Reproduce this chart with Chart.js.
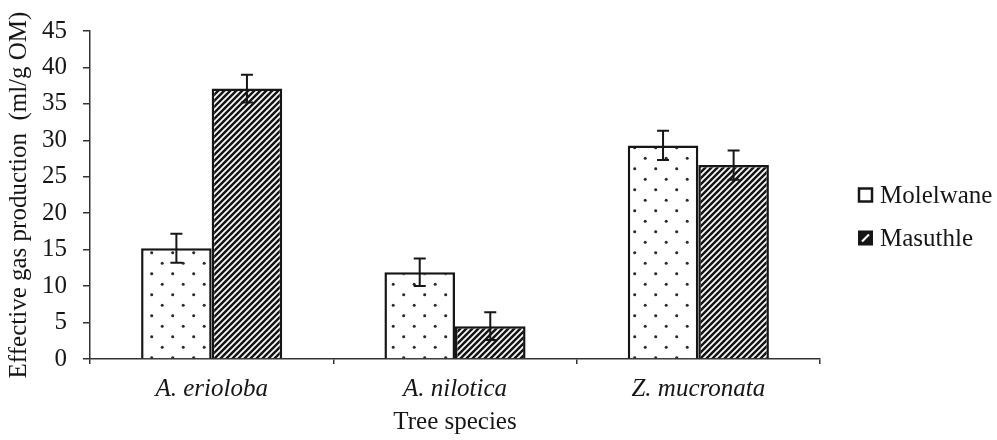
<!DOCTYPE html>
<html>
<head>
<meta charset="utf-8">
<title>Effective gas production by tree species</title>
<script src="https://cdn.jsdelivr.net/npm/chart.js@4/dist/chart.umd.min.js"></script>
<style>
  html, body { margin: 0; padding: 0; background: #ffffff; }
  #wrap { width: 997px; height: 440px; }
</style>
</head>
<body>
<div id="wrap"><canvas id="chart" width="997" height="440"></canvas></div>
<script>
// Tree species on the x axis
const species = ['A. erioloba', 'A. nilotica', 'Z. mucronata'];
// Series names
const seriesNames = ['Molelwane', 'Masuthle'];
// Effective gas production (ml/g OM)
const molelwane = [15.2, 11.9, 29.3];
const masuthle = [37.1, 4.5, 26.6];
// Error bar half-widths (ml/g OM)
const molelwaneErr = [2.0, 1.9, 2.0];
const masuthleErr = [1.9, 1.9, 2.0];
// Y axis range and step
const yMin = 0;
const yMax = 45;
const yStep = 5;

const INK = '#161616';
const FONT = "'Liberation Serif', 'Times New Roman', serif";

// Staggered dot fill
function makeDotPattern() {
  const c = document.createElement('canvas');
  c.width = 21; c.height = 21;
  const g = c.getContext('2d');
  g.fillStyle = '#ffffff';
  g.fillRect(0, 0, 21, 21);
  g.fillStyle = '#2a2a2a';
  [[4.7, 0.7], [15.2, 11.2], [4.7, 21.7], [-5.8, 11.2], [15.2, -9.8], [25.7, 11.2]].forEach(([x, y]) => {
    g.beginPath();
    g.arc(x, y, 1.5, 0, Math.PI * 2);
    g.fill();
  });
  return g.createPattern(c, 'repeat');
}

// Dense diagonal hatch: white "/" stripes on black
function makeHatchPattern() {
  const s = 6;
  const c = document.createElement('canvas');
  c.width = s; c.height = s;
  const g = c.getContext('2d');
  g.fillStyle = '#151515';
  g.fillRect(0, 0, s, s);
  g.strokeStyle = '#ffffff';
  g.lineWidth = 1.7;
  g.beginPath();
  g.moveTo(-1, s + 1); g.lineTo(s + 1, -1);
  g.moveTo(-1, 1); g.lineTo(1, -1);
  g.moveTo(s - 1, s + 1); g.lineTo(s + 1, s - 1);
  g.stroke();
  return g.createPattern(c, 'repeat');
}

const errors = [molelwaneErr, masuthleErr];

// Error bars drawn through the value scale
const errorBarPlugin = {
  id: 'errorBars',
  afterDatasetsDraw(chart) {
    const { ctx, scales: { y } } = chart;
    ctx.save();
    ctx.strokeStyle = INK;
    ctx.lineWidth = 2;
    chart.data.datasets.forEach((ds, di) => {
      const meta = chart.getDatasetMeta(di);
      meta.data.forEach((bar, i) => {
        const v = ds.data[i];
        const e = errors[di][i];
        const x = bar.x;
        const yTop = y.getPixelForValue(v + e);
        const yBot = y.getPixelForValue(v - e);
        const cap = 6;
        ctx.beginPath();
        ctx.moveTo(x, yTop); ctx.lineTo(x, yBot);
        ctx.moveTo(x - cap, yTop); ctx.lineTo(x + cap, yTop);
        ctx.moveTo(x - cap, yBot); ctx.lineTo(x + cap, yBot);
        ctx.stroke();
      });
    });
    ctx.restore();
  }
};

// Legend at the right of the plot
const sideLegendPlugin = {
  id: 'sideLegend',
  afterDraw(chart) {
    const { ctx, chartArea } = chart;
    const x0 = chartArea.right + 39;
    const rows = [195, 238];
    ctx.save();
    ctx.font = '25px ' + FONT;
    ctx.textBaseline = 'middle';
    ctx.textAlign = 'left';
    chart.data.datasets.forEach((ds, i) => {
      const yc = rows[i];
      const b = 13;
      const bx = x0, by = yc - b / 2;
      if (i === 0) {
        ctx.fillStyle = '#ffffff';
        ctx.fillRect(bx, by, b, b);
        ctx.strokeStyle = INK;
        ctx.lineWidth = 2.5;
        ctx.strokeRect(bx, by, b, b);
      } else {
        ctx.fillStyle = '#151515';
        ctx.fillRect(bx - 1, by - 1, b + 2, b + 2);
        ctx.strokeStyle = '#ffffff';
        ctx.lineWidth = 2.2;
        ctx.beginPath();
        ctx.moveTo(bx + 3, by + b - 3);
        ctx.lineTo(bx + b - 3, by + 3);
        ctx.stroke();
      }
      ctx.fillStyle = INK;
      ctx.fillText(ds.label, bx + b + 8, yc + 1);
    });
    ctx.restore();
  }
};

const ctx = document.getElementById('chart').getContext('2d');
new Chart(ctx, {
  type: 'bar',
  data: {
    labels: species,
    datasets: [
      {
        label: seriesNames[0],
        data: molelwane,
        backgroundColor: makeDotPattern(),
        borderColor: INK,
        borderWidth: 2.5,
        borderSkipped: 'start'
      },
      {
        label: seriesNames[1],
        data: masuthle,
        backgroundColor: makeHatchPattern(),
        borderColor: INK,
        borderWidth: 2.5,
        borderSkipped: 'start'
      }
    ]
  },
  options: {
    responsive: false,
    devicePixelRatio: 1,
    animation: false,
    layout: { padding: { top: 20, right: 177, left: 0, bottom: 0 } },
    datasets: { bar: { categoryPercentage: 0.58, barPercentage: 1.0 } },
    plugins: {
      legend: { display: false },
      tooltip: { enabled: false }
    },
    scales: {
      x: {
        grid: {
          display: true,
          drawOnChartArea: false,
          drawTicks: true,
          tickLength: 5,
          color: '#333333',
          lineWidth: 1.5,
          offset: true
        },
        border: { display: true, color: '#333333', width: 1.5 },
        ticks: {
          color: INK,
          padding: 10,
          font: { family: FONT, size: 25, style: 'italic' }
        },
        title: {
          display: true,
          text: 'Tree species',
          color: INK,
          padding: { top: 0, bottom: 3 },
          font: { family: FONT, size: 25 }
        },
        afterFit(scale) { scale.height = 81; }
      },
      y: {
        min: yMin,
        max: yMax,
        grid: {
          display: true,
          drawOnChartArea: false,
          drawTicks: true,
          tickLength: 7,
          color: '#333333',
          lineWidth: 1.5
        },
        border: { display: true, color: '#333333', width: 1.5 },
        ticks: {
          stepSize: yStep,
          color: INK,
          padding: 16,
          font: { family: FONT, size: 25 }
        },
        title: {
          display: true,
          text: 'Effective gas production  (ml/g OM)',
          color: INK,
          padding: { top: 4, bottom: 0 },
          font: { family: FONT, size: 25 }
        },
        afterFit(scale) { scale.width = 90; }
      }
    }
  },
  plugins: [errorBarPlugin, sideLegendPlugin]
});
</script>
</body>
</html>
